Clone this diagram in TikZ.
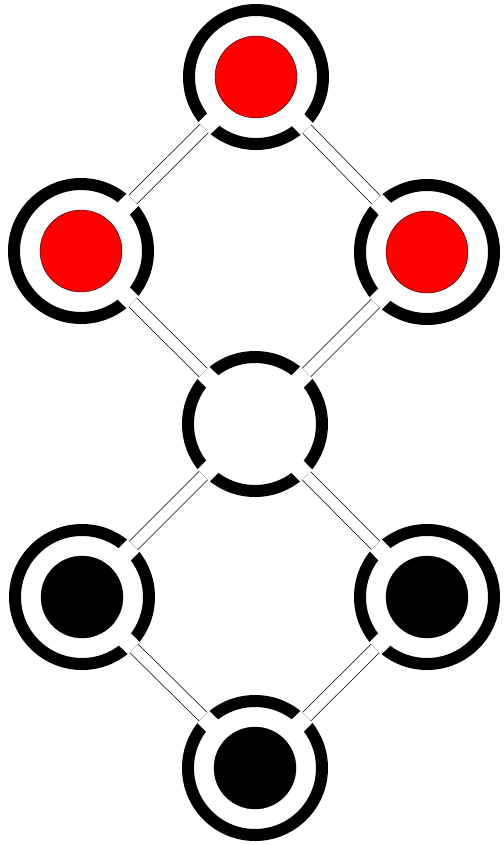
\documentclass[tikz,border=0pt]{standalone}
\usepackage{tikz}

\begin{document}
\begin{tikzpicture}[x=0.5mm, y=-0.5mm,
    ring/.style={circle, draw=black, fill=white, line width=6mm, minimum size=67mm, inner sep=0pt},
    core/.style={circle, draw=black, line width=0.5pt, minimum size=41mm, inner sep=0pt},
    band/.style={white, line width=8.5mm, shorten <=30mm, shorten >=30mm},
    link/.style={draw=black, double=white, double distance=5.5mm, line width=1pt, shorten <=36.5mm, shorten >=36.5mm}]
    \useasboundingbox (0,0) rectangle (504,845);
    % rings
    \foreach \n/\x/\y in {t/256/77, l/81/251, r/427/252, c/255/424, ll/82/597, lr/427/597, b/255/768}
        \node[ring] (\n) at (\x,\y) {};
    % filled centres
    \foreach \n/\c in {t/red, l/red, r/red, ll/black, lr/black, b/black}
        \node[core, fill=\c] (\n-core) at (\n.center) {};
    % bonds
    \foreach \a/\b in {t/l, t/r, l/c, r/c, c/ll, c/lr, ll/b, lr/b} {
        \draw[band] (\a.center) -- (\b.center);
        \draw[link] (\a.center) -- (\b.center);
    }
\end{tikzpicture}
\end{document}
